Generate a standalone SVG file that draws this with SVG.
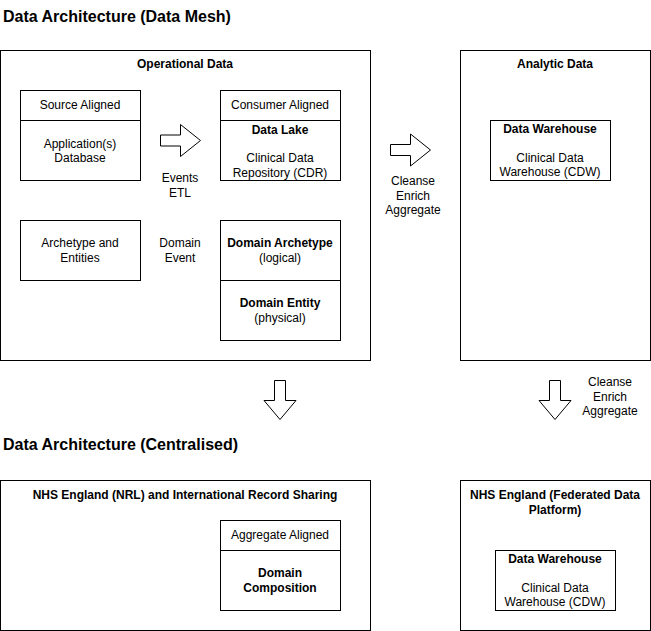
<svg xmlns="http://www.w3.org/2000/svg" width="651" height="631" viewBox="0 0 651 631">
<style>
  .box { fill: #ffffff; stroke: #000000; stroke-width: 1; }
  .arrow { fill: #ffffff; stroke: #000000; stroke-width: 1; stroke-linejoin: miter; }
  text { font-family: "Liberation Sans", Arial, Helvetica, sans-serif; font-size: 12px; fill: #000000; text-anchor: middle; }
  .b { font-weight: bold; }
  .title { font-size: 16px; font-weight: bold; text-anchor: start; }
</style>
<rect x="0" y="0" width="651" height="631" fill="#ffffff"/>

<g id="title-mesh"><text class="title" x="3" y="22">Data Architecture (Data Mesh)</text></g>
<g id="title-centralised"><text class="title" x="3" y="450">Data Architecture (Centralised)</text></g>

<g id="operational-data">
  <rect class="box" x="0.5" y="50.5" width="370" height="310"/>
  <text class="b" x="185" y="68">Operational Data</text>
</g>

<g id="analytic-data">
  <rect class="box" x="460.5" y="50.5" width="190" height="310"/>
  <text class="b" x="555" y="68">Analytic Data</text>
</g>

<g id="source-aligned">
  <rect class="box" x="20.5" y="90.5" width="120" height="30"/>
  <text x="80" y="109">Source Aligned</text>
</g>
<g id="application-database">
  <rect class="box" x="20.5" y="120.5" width="120" height="60"/>
  <text x="80" y="147.5">Application(s)</text>
  <text x="80" y="162">Database</text>
</g>

<g id="consumer-aligned">
  <rect class="box" x="220.5" y="90.5" width="120" height="30"/>
  <text x="280" y="109">Consumer Aligned</text>
</g>
<g id="data-lake">
  <rect class="box" x="220.5" y="120.5" width="120" height="60"/>
  <text class="b" x="280" y="133.5">Data Lake</text>
  <text x="280" y="162">Clinical Data</text>
  <text x="280" y="176.5">Repository (CDR)</text>
</g>

<g id="archetype-entities">
  <rect class="box" x="20.5" y="220.5" width="120" height="60"/>
  <text x="80" y="247">Archetype and</text>
  <text x="80" y="261.5">Entities</text>
</g>

<g id="domain-archetype">
  <rect class="box" x="220.5" y="220.5" width="120" height="60"/>
  <text class="b" x="280" y="247">Domain Archetype</text>
  <text x="280" y="261.5">(logical)</text>
</g>
<g id="domain-entity">
  <rect class="box" x="220.5" y="280.5" width="120" height="60"/>
  <text class="b" x="280" y="307">Domain Entity</text>
  <text x="280" y="321.5">(physical)</text>
</g>

<g id="data-warehouse-analytic">
  <rect class="box" x="490.5" y="120.5" width="120" height="60"/>
  <text class="b" x="550" y="132.5">Data Warehouse</text>
  <text x="550" y="161.5">Clinical Data</text>
  <text x="550" y="176">Warehouse (CDW)</text>
</g>

<g id="nhs-nrl">
  <rect class="box" x="0.5" y="480.5" width="370" height="150"/>
  <text class="b" x="185" y="499">NHS England (NRL) and International Record Sharing</text>
</g>
<g id="aggregate-aligned">
  <rect class="box" x="220.5" y="520.5" width="120" height="30"/>
  <text x="280" y="539">Aggregate Aligned</text>
</g>
<g id="domain-composition">
  <rect class="box" x="220.5" y="550.5" width="120" height="60"/>
  <text class="b" x="280" y="577">Domain</text>
  <text class="b" x="280" y="591.5">Composition</text>
</g>

<g id="nhs-fdp">
  <rect class="box" x="460.5" y="480.5" width="190" height="150"/>
  <text class="b" x="555" y="499">NHS England (Federated Data</text>
  <text class="b" x="555" y="513.5">Platform)</text>
</g>
<g id="data-warehouse-fdp">
  <rect class="box" x="495.5" y="550.5" width="120" height="60"/>
  <text class="b" x="555" y="562.5">Data Warehouse</text>
  <text x="555" y="591.5">Clinical Data</text>
  <text x="555" y="606">Warehouse (CDW)</text>
</g>

<g id="connectors">
  <path class="arrow" d="M160.5,135 L180.5,135 L180.5,124.5 L200.5,140.5 L180.5,156.5 L180.5,146 L160.5,146 Z"/>
  <text x="180" y="182">Events</text>
  <text x="180" y="196.5">ETL</text>

  <text x="180" y="247">Domain</text>
  <text x="180" y="261.5">Event</text>

  <path class="arrow" d="M390.5,144.5 L410.5,144.5 L410.5,134 L430.5,150 L410.5,166 L410.5,155.5 L390.5,155.5 Z"/>
  <text x="413" y="185">Cleanse</text>
  <text x="413" y="199.5">Enrich</text>
  <text x="413" y="214">Aggregate</text>

  <path class="arrow" d="M274.5,380.5 L285.5,380.5 L285.5,400.5 L296,400.5 L280,419.5 L264,400.5 L274.5,400.5 Z"/>

  <path class="arrow" d="M549.5,380.5 L560.5,380.5 L560.5,400.5 L571,400.5 L555,419.5 L539,400.5 L549.5,400.5 Z"/>
  <text x="610" y="386">Cleanse</text>
  <text x="610" y="400.5">Enrich</text>
  <text x="610" y="415">Aggregate</text>
</g>
</svg>
